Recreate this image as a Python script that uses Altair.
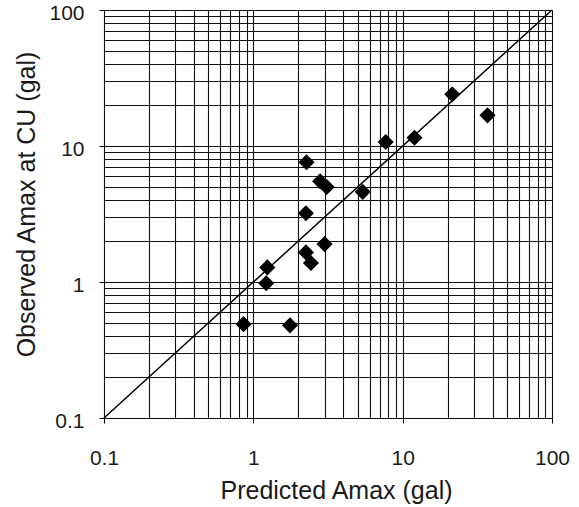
import altair as alt
import pandas as pd

# Predicted vs observed peak ground acceleration (gal)
predicted = [21.5, 37.0, 7.7, 12.0, 2.27, 2.8, 3.1, 5.4, 2.25, 3.0, 2.25, 2.43, 1.24, 1.22, 0.86, 1.76]
observed = [24.0, 16.8, 10.7, 11.5, 7.6, 5.5, 5.0, 4.6, 3.2, 1.9, 1.65, 1.38, 1.28, 0.98, 0.49, 0.48]

# 1:1 reference line endpoints
one_to_one = [0.1, 100.0]

# log grid: 1..9 x each decade, plus the top bound
grid_values = [k * 10.0 ** n for n in (-1, 0, 1) for k in range(1, 10)] + [100.0]

points = pd.DataFrame({"pred": predicted, "obs": observed})
diag = pd.DataFrame({"pred": one_to_one, "obs": one_to_one})

is_major = "abs(log(datum.value)/LN10 - round(log(datum.value)/LN10)) < 0.001"
label_expr = f"({is_major}) ? format(datum.value, '~g') : ''"
tick_size = {"condition": {"test": is_major, "value": 5}, "value": 0}

FONT = "Liberation Sans"
TEXT = "#1a1a1a"

x_scale = alt.Scale(type="log", domain=[0.1, 100], nice=False)
y_scale = alt.Scale(type="log", domain=[0.1, 100], nice=False)

common = dict(
    values=grid_values,
    labelExpr=label_expr,
    labelOverlap=False,
    labelFlush=False,
    tickSize=tick_size,
    tickColor="black",
    tickWidth=1,
    grid=True,
    gridColor="#111111",
    gridWidth=1.1,
    gridOpacity=1,
    domain=False,
    labelFont=FONT,
    labelFontSize=21,
    labelColor=TEXT,
    titleFont=FONT,
    titleFontSize=25,
    titleFontWeight="normal",
    titleColor=TEXT,
    titleBaseline="alphabetic",
    titleAnchor="middle",
)

x_axis = alt.Axis(
    labelPadding=24,
    title="Predicted Amax (gal)",
    titleX=232,
    titleY=80,
    **common,
)

y_axis = alt.Axis(
    labelPadding=15,
    labelOffset=3,
    title="Observed Amax at CU (gal)",
    titleX=-70,
    titleY=194,
    titleAngle=270,
    **common,
)

line = alt.Chart(diag).mark_line(color="black", strokeWidth=1.5).encode(
    x=alt.X("pred:Q", scale=x_scale, axis=x_axis),
    y=alt.Y("obs:Q", scale=y_scale, axis=y_axis),
)

dots = alt.Chart(points).mark_point(
    shape="diamond", filled=True, color="black", size=260, opacity=1
).encode(
    x=alt.X("pred:Q", scale=x_scale),
    y=alt.Y("obs:Q", scale=y_scale),
)

chart = (
    alt.layer(line, dots)
    .properties(
        width=448,
        height=408,
        autosize=alt.AutoSizeParams(type="none"),
        padding={"left": 104, "top": 10, "right": 27, "bottom": 89},
    )
    .configure_view(stroke="black", strokeWidth=2)
    .configure(background="white")
)

chart.save("out.html", embed_options={"renderer": "svg", "actions": False})
